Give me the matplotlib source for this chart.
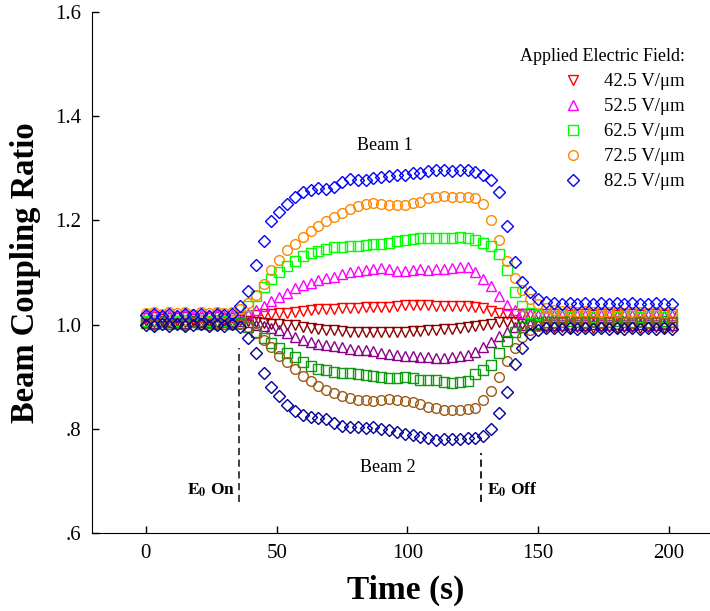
import matplotlib
matplotlib.use("Agg")
import matplotlib.pyplot as plt

plt.rcParams['font.family'] = ['Liberation Serif', 'DejaVu Serif']
plt.rcParams['mathtext.fontset'] = 'stix'

# time (s)
time_s = [0, 3, 6, 9, 12, 15, 18, 21, 24, 27, 30, 33, 36, 39, 42, 45, 48, 51, 54, 57,
          60, 63, 66, 69, 72, 75, 78, 81, 84, 87, 90, 93, 96, 99, 102, 105, 108, 111,
          114, 117, 120, 123, 126, 129, 132, 135, 138, 141, 144, 147, 150, 153, 156,
          159, 162, 165, 168, 171, 174, 177, 180, 183, 186, 189, 192, 195, 198, 201]

fields = ['42.5 V/\u03bcm', '52.5 V/\u03bcm', '62.5 V/\u03bcm', '72.5 V/\u03bcm', '82.5 V/\u03bcm']

# beam 1 (gain side)
beam1_42 = [1.012, 1.014, 1.011, 1.013, 1.012, 1.014, 1.011, 1.013, 1.012, 1.014, 1.011, 1.013,
            1.015, 1.017, 1.018, 1.020, 1.021, 1.022, 1.023, 1.025, 1.026, 1.028,
            1.029, 1.030, 1.030, 1.031, 1.031, 1.032, 1.033, 1.033, 1.034, 1.034,
            1.036, 1.038, 1.038, 1.038, 1.037, 1.036, 1.036, 1.035, 1.035, 1.035,
            1.033, 1.031, 1.026, 1.023, 1.021, 1.020, 1.020, 1.020, 1.021, 1.020,
            1.020, 1.021, 1.019, 1.020, 1.021, 1.019, 1.020, 1.021, 1.019, 1.020, 1.021, 1.019, 1.020, 1.021, 1.019, 1.020]
beam1_52 = [1.018, 1.020, 1.017, 1.019, 1.018, 1.020, 1.017, 1.019, 1.018, 1.020, 1.017, 1.019,
            1.015, 1.020, 1.028, 1.035, 1.045, 1.053, 1.060, 1.070, 1.076, 1.079,
            1.085, 1.089, 1.092, 1.097, 1.100, 1.103, 1.105, 1.106, 1.108, 1.106,
            1.103, 1.102, 1.104, 1.106, 1.105, 1.106, 1.107, 1.108, 1.111, 1.110,
            1.100, 1.088, 1.074, 1.054, 1.038, 1.028, 1.022, 1.020, 1.019, 1.018,
            1.018, 1.019, 1.017, 1.018, 1.019, 1.017, 1.018, 1.019, 1.017, 1.018, 1.019, 1.017, 1.018, 1.019, 1.017, 1.018]
beam1_62 = [1.006, 1.009, 1.005, 1.008, 1.006, 1.009, 1.005, 1.008, 1.006, 1.009, 1.006, 1.008,
            1.012, 1.035, 1.055, 1.072, 1.088, 1.100, 1.113, 1.122, 1.131, 1.137,
            1.142, 1.146, 1.148, 1.149, 1.150, 1.151, 1.153, 1.155, 1.155, 1.156,
            1.160, 1.162, 1.164, 1.166, 1.166, 1.167, 1.166, 1.167, 1.168, 1.167,
            1.163, 1.157, 1.150, 1.135, 1.105, 1.062, 1.035, 1.022, 1.018, 1.017,
            1.016, 1.017, 1.015, 1.016, 1.017, 1.015, 1.016, 1.017, 1.015, 1.016, 1.017, 1.015, 1.016, 1.017, 1.015, 1.016]
beam1_72 = [1.022, 1.025, 1.021, 1.024, 1.022, 1.025, 1.021, 1.024, 1.022, 1.025, 1.022, 1.024,
            1.030, 1.042, 1.057, 1.078, 1.105, 1.124, 1.143, 1.155, 1.168, 1.180,
            1.190, 1.198, 1.207, 1.214, 1.222, 1.228, 1.232, 1.233, 1.232, 1.230,
            1.230, 1.230, 1.233, 1.236, 1.242, 1.244, 1.246, 1.245, 1.245, 1.245,
            1.243, 1.232, 1.200, 1.163, 1.122, 1.090, 1.066, 1.050, 1.039, 1.032,
            1.028, 1.027, 1.026, 1.025, 1.026, 1.024, 1.025, 1.024, 1.025, 1.023, 1.024, 1.025, 1.023, 1.024, 1.023, 1.024]
beam1_82 = [1.018, 1.021, 1.016, 1.020, 1.017, 1.021, 1.018, 1.020, 1.016, 1.021, 1.018, 1.020,
            1.035, 1.065, 1.115, 1.160, 1.198, 1.216, 1.232, 1.244, 1.255, 1.258,
            1.262, 1.260, 1.265, 1.274, 1.280, 1.278, 1.278, 1.282, 1.283, 1.285,
            1.287, 1.287, 1.290, 1.290, 1.294, 1.297, 1.296, 1.295, 1.296, 1.297,
            1.292, 1.287, 1.277, 1.255, 1.190, 1.120, 1.082, 1.062, 1.050, 1.043,
            1.041, 1.040, 1.042, 1.040, 1.041, 1.039, 1.041, 1.040, 1.042, 1.040, 1.041, 1.039, 1.040, 1.041, 1.039, 1.040]

# beam 2 (loss side)
beam2_42 = [1.006, 1.004, 1.007, 1.005, 1.006, 1.004, 1.007, 1.005, 1.006, 1.004, 1.007, 1.005,
            1.008, 1.006, 1.004, 1.003, 1.002, 1.001, 1.000, 0.999, 0.996, 0.994,
            0.992, 0.990, 0.989, 0.987, 0.986, 0.986, 0.985, 0.985, 0.985, 0.985,
            0.985, 0.986, 0.987, 0.988, 0.989, 0.990, 0.991, 0.992, 0.993, 0.995,
            0.997, 0.999, 1.002, 1.004, 1.005, 1.004, 1.002, 1.000, 0.998, 0.996,
            0.995, 0.996, 0.994, 0.995, 0.996, 0.994, 0.995, 0.996, 0.994, 0.995, 0.996, 0.994, 0.995, 0.996, 0.994, 0.995]
beam2_52 = [1.005, 1.003, 1.006, 1.004, 1.005, 1.003, 1.006, 1.004, 1.005, 1.003, 1.006, 1.004,
            1.006, 1.004, 1.000, 0.997, 0.994, 0.990, 0.983, 0.976, 0.970, 0.966,
            0.962, 0.960, 0.958, 0.956, 0.954, 0.952, 0.951, 0.949, 0.946, 0.944,
            0.942, 0.940, 0.939, 0.938, 0.937, 0.935, 0.936, 0.938, 0.940, 0.942,
            0.948, 0.957, 0.967, 0.978, 0.986, 0.995, 1.000, 1.001, 1.001, 1.000,
            1.000, 0.999, 1.001, 1.000, 0.999, 1.001, 1.000, 0.999, 1.001, 1.000, 0.999, 1.001, 1.000, 0.999, 1.001, 1.000]
beam2_62 = [1.003, 1.001, 1.004, 1.002, 1.003, 1.001, 1.004, 1.002, 1.003, 1.001, 1.004, 1.002,
            1.003, 0.995, 0.985, 0.975, 0.965, 0.955, 0.945, 0.937, 0.929, 0.921,
            0.915, 0.912, 0.909, 0.908, 0.907, 0.905, 0.903, 0.902, 0.900, 0.898,
            0.898, 0.899, 0.897, 0.894, 0.894, 0.893, 0.890, 0.888, 0.889, 0.891,
            0.905, 0.913, 0.922, 0.945, 0.968, 0.985, 0.995, 1.000, 1.003, 1.004,
            1.005, 1.004, 1.006, 1.005, 1.004, 1.006, 1.005, 1.004, 1.006, 1.005, 1.004, 1.006, 1.005, 1.004, 1.006, 1.005]
beam2_72 = [1.003, 1.000, 1.004, 1.001, 1.003, 1.000, 1.004, 1.002, 1.000, 1.003, 1.001, 1.003,
            1.002, 0.995, 0.984, 0.970, 0.956, 0.940, 0.928, 0.915, 0.902, 0.891,
            0.882, 0.874, 0.868, 0.863, 0.859, 0.855, 0.855, 0.853, 0.855, 0.857,
            0.855, 0.854, 0.852, 0.848, 0.842, 0.839, 0.836, 0.836, 0.836, 0.837,
            0.840, 0.856, 0.873, 0.900, 0.930, 0.955, 0.976, 0.990, 0.997, 1.001,
            1.003, 1.004, 1.002, 1.004, 1.003, 1.005, 1.003, 1.004, 1.002, 1.004, 1.003, 1.005, 1.003, 1.004, 1.003, 1.004]
beam2_82 = [1.000, 0.997, 1.002, 0.998, 1.001, 0.997, 1.000, 1.002, 0.998, 1.000, 0.997, 1.001,
            0.995, 0.975, 0.945, 0.908, 0.880, 0.862, 0.845, 0.834, 0.826, 0.822,
            0.820, 0.818, 0.812, 0.806, 0.804, 0.803, 0.802, 0.803, 0.800, 0.797,
            0.794, 0.790, 0.788, 0.785, 0.782, 0.779, 0.780, 0.781, 0.780, 0.782,
            0.783, 0.786, 0.800, 0.830, 0.870, 0.925, 0.955, 0.982, 0.990, 0.993,
            0.993, 0.992, 0.994, 0.991, 0.993, 0.992, 0.994, 0.992, 0.993, 0.991, 0.993, 0.992, 0.994, 0.992, 0.993, 0.992]

E0_on, E0_off = 35.6, 128.3

beam1 = [beam1_42, beam1_52, beam1_62, beam1_72, beam1_82]
beam2 = [beam2_42, beam2_52, beam2_62, beam2_72, beam2_82]
markers = ['v', '^', 's', 'o', 'D']
sizes = [7.2, 7.2, 7.0, 7.0, 6.6]
col1 = ['#ff0000', '#ff00ff', '#00ff00', '#ff8800', '#0000ff']
col2 = ['#8b0000', '#8b008b', '#119911', '#9c5b17', '#000099']

fig = plt.figure(figsize=(7.1, 6.11), dpi=100)
ax = fig.add_axes([0.1296, 0.1277, 0.8704, 0.8527])

for y1, y2, m, ms, c1, c2, lab in zip(beam1, beam2, markers, sizes, col1, col2, fields):
    ax.plot(time_s, y1, ls='none', marker=m, ms=ms, mfc='none', mec=c1, mew=1.0, label=lab)
    ax.plot(time_s, y2, ls='none', marker=m, ms=ms, mfc='none', mec=c2, mew=1.0)

ax.plot([E0_on, E0_on], [0.66, 0.955], color='#333333', lw=1.3, dashes=(4, 2.5))
ax.plot([E0_off, E0_off], [0.66, 0.754], color='#111111', lw=1.3, dashes=(4, 2.5))

ax.text(91.5, 1.343, 'Beam 1', ha='center', va='center', fontsize=13)
ax.text(92.5, 0.725, 'Beam 2', ha='center', va='center', fontsize=13)
ax.text(E0_on - 1.5, 0.6825, r'$\mathbf{E_0}$ On', ha='right', va='center', fontsize=12.5, fontweight='bold')
ax.text(E0_off + 2, 0.6825, r'$\mathbf{E_0}$ Off', ha='left', va='center', fontsize=12.5, fontweight='bold')

ax.set_xlim(-20.6, 215.7)
ax.set_ylim(0.6, 1.6)
ax.set_xticks([0, 50, 100, 150, 200])
ax.set_yticks([0.6, 0.8, 1.0, 1.2, 1.4, 1.6])
ax.set_yticklabels(['.6', '.8', '1.0', '1.2', '1.4', '1.6'])
ax.tick_params(direction='in', length=5, width=1, labelsize=15, pad=8)
ax.spines['top'].set_visible(False)
ax.spines['right'].set_visible(False)
ax.set_xlabel('Time (s)', fontsize=24, fontweight='bold')
ax.xaxis.set_label_coords(0.508, -0.081)
ax.set_ylabel('Beam Coupling Ratio', fontsize=23.5, fontweight='bold', labelpad=10)

leg = ax.legend(loc='upper right', bbox_to_anchor=(0.975, 0.933), bbox_transform=fig.transFigure,
                frameon=False, fontsize=13.5, title='Applied Electric Field:', title_fontsize=13,
                alignment='right', labelspacing=0.42, handletextpad=0.65, markerscale=1.0,
                borderaxespad=0)

fig.savefig('out.png', dpi=100)
